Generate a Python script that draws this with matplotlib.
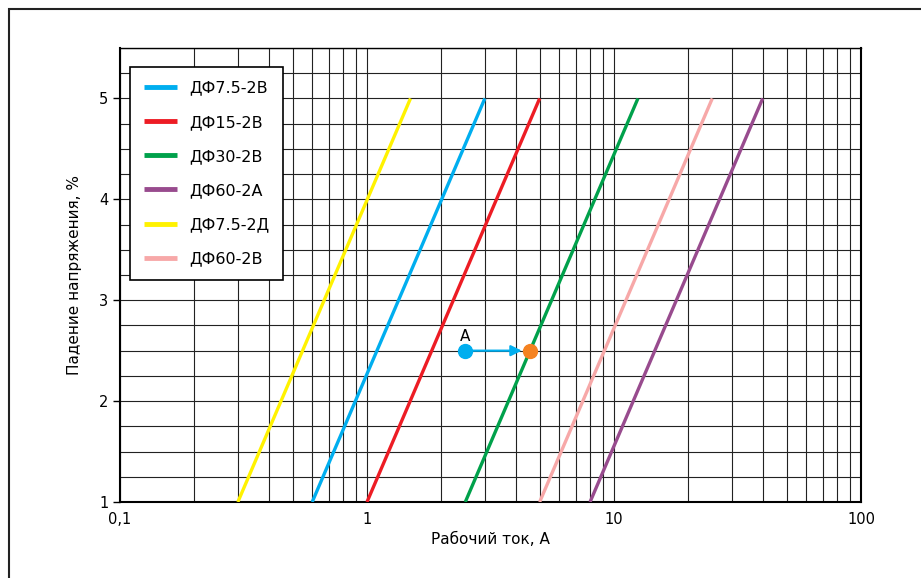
import matplotlib.pyplot as plt
from matplotlib.patches import Rectangle
from matplotlib.ticker import FixedLocator, NullFormatter

# данные: ток при 1% и при 5% падения напряжения
names = ['ДФ7.5-2В', 'ДФ15-2В', 'ДФ30-2В', 'ДФ60-2А', 'ДФ7.5-2Д', 'ДФ60-2В']
colors = ['#00AEEF', '#ED1C24', '#00A14B', '#984B8E', '#FFF200', '#F7A8A8']
i_start = [0.6, 1.0, 2.5, 8.0, 0.3, 5.0]
i_end = [3.0, 5.0, 12.5, 40.0, 1.5, 25.0]
u_range = [1, 5]

point_a = (2.5, 2.5)
point_b = (4.55, 2.5)

x_ticks = [0.1, 1, 10, 100]
x_labels = ['0,1', '1', '10', '100']
y_ticks = [1, 2, 3, 4, 5]

fig = plt.figure(figsize=(9.21, 5.78), dpi=100)
ax = fig.add_axes([120 / 921, 1 - 502 / 578, 741 / 921, 454 / 578])

# внешняя рамка
fig.patches.append(Rectangle((9 / 921, -0.1), 1.2, 1.1 - 9 / 578, transform=fig.transFigure,
                             fill=False, edgecolor='#222222', linewidth=1.5))

for n, c, a, b in zip(names, colors, i_start, i_end):
    ax.plot([a, b], u_range, color=c, linewidth=2.4, label=n, solid_capstyle='butt', zorder=3)

ax.set_xscale('log')
ax.set_xlim(0.1, 100)
ax.set_ylim(1, 5.5)

minor_x = [m * 10.0 ** e for e in (-1, 0, 1) for m in range(2, 10)]
ax.xaxis.set_major_locator(FixedLocator(x_ticks))
ax.xaxis.set_minor_locator(FixedLocator(minor_x))
ax.xaxis.set_minor_formatter(NullFormatter())
ax.set_xticklabels(x_labels)
ax.set_yticks(y_ticks)
ax.yaxis.set_minor_locator(FixedLocator([1 + 0.25 * k for k in range(19)]))

ax.grid(True, which='both', color='#222222', linewidth=0.8, zorder=0)
ax.tick_params(axis='x', which='both', length=0, labelsize=10.5, pad=7)
ax.tick_params(axis='y', which='major', length=5, labelsize=10.5, width=1)
ax.tick_params(axis='y', which='minor', length=0)
for s in ax.spines.values():
    s.set_linewidth(1.5)
    s.set_color('black')
ax.spines['top'].set_linewidth(1.0)

# точка A и стрелка
ax.annotate('', xy=(point_b[0] * 0.93, point_b[1]), xytext=point_a,
            arrowprops=dict(arrowstyle='-|>', color='#00AEEF', lw=1.6, mutation_scale=16,
                            shrinkA=0, shrinkB=0), zorder=4)
ax.plot(*point_a, 'o', color='#00AEEF', markersize=10, zorder=5)
ax.plot(*point_b, 'o', color='#F58220', markersize=10, zorder=5)
ax.text(point_a[0], point_a[1] + 0.07, 'А', ha='center', va='bottom', fontsize=11)

ax.set_xlabel('Рабочий ток, А', fontsize=11, labelpad=4)
ax.set_ylabel('Падение напряжения, %', fontsize=11, labelpad=12)

leg = ax.legend(loc='upper left', bbox_to_anchor=(10 / 741, 1 - 19 / 454), borderaxespad=0,
                fontsize=11.5, handlelength=2.1, handletextpad=0.75, labelspacing=1.2,
                borderpad=0.85, fancybox=False, framealpha=1, edgecolor='black')
leg.get_frame().set_linewidth(1.2)
for h in leg.get_lines():
    h.set_linewidth(3.5)

fig.savefig('out.png', dpi=100)
